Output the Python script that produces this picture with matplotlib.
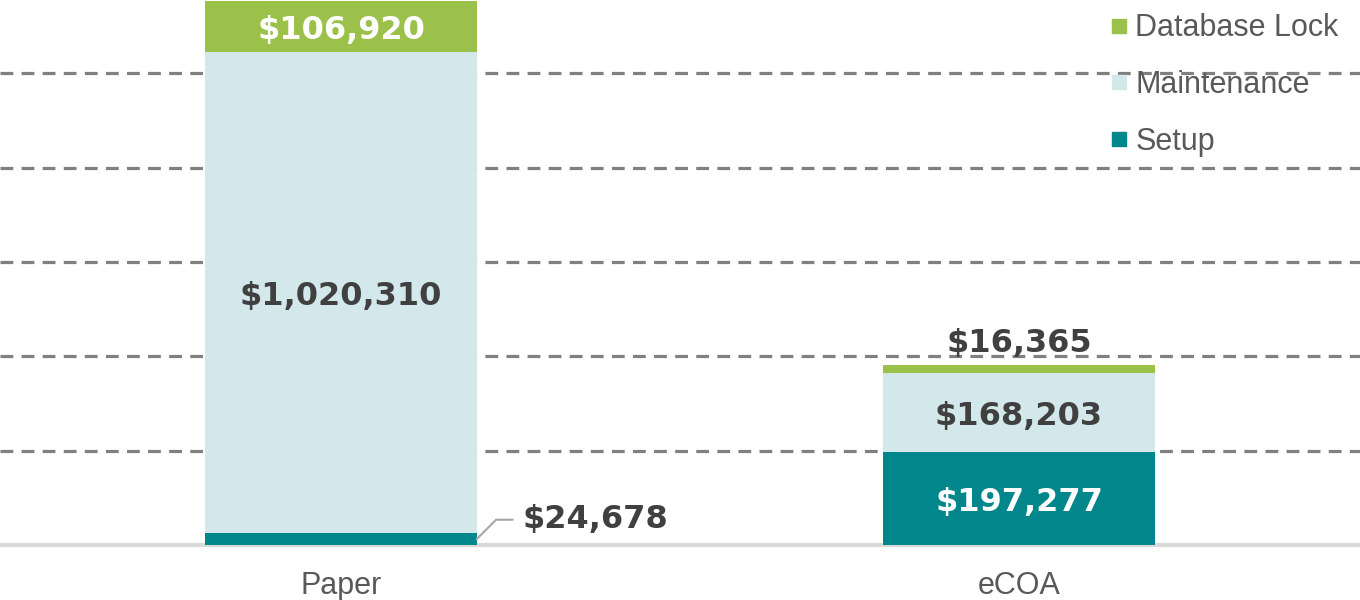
import matplotlib.pyplot as plt
import matplotlib.transforms as mtransforms
from matplotlib.lines import Line2D

# data
categories = ['Paper', 'eCOA']
setup = [24678, 197277]
maintenance = [1020310, 168203]
db_lock = [106920, 16365]
series_names = ['Setup', 'Maintenance', 'Database Lock']

c_setup = '#00868b'
c_maint = '#d3e8ea'
c_lock = '#9bc14b'
dark = '#404040'

fig = plt.figure(figsize=(13.6, 6), dpi=100)
ax = fig.add_axes([0, 55 / 600, 1, 545 / 600])

x = list(range(len(categories)))
w = 0.4
bottom2 = [s + m for s, m in zip(setup, maintenance)]

ax.bar(x, setup, w, color=c_setup, zorder=3)
ax.bar(x, maintenance, w, bottom=setup, color=c_maint, zorder=3)
ax.bar(x, db_lock, w, bottom=bottom2, color=c_lock, zorder=3)

ax.set_xlim(-0.503, 1.503)
ax.set_ylim(0, 1155000)

# dashed grid
for g in [200000, 400000, 600000, 800000, 1000000]:
    ax.axhline(g, color='#808080', lw=2.3, dashes=(4, 2.6), zorder=1)
ax.axhline(0, color='#d9d9d9', lw=3, zorder=2, clip_on=False)

# labels nudged a bit down like the original
tr = mtransforms.offset_copy(ax.transData, fig, y=-3, units='points')
lab = dict(fontsize=23, fontweight='bold', family='DejaVu Sans', ha='center', va='center',
           zorder=5, transform=tr)

# Paper labels
ax.text(0, bottom2[0] + db_lock[0] / 2, f'${db_lock[0]:,}', color='white', **lab)
ax.text(0, setup[0] + maintenance[0] / 2, f'${maintenance[0]:,}', color=dark, **lab)
ax.annotate(f'${setup[0]:,}', xy=(w / 2, setup[0] / 2), xytext=(33, 14), textcoords='offset points',
            ha='left', va='center', fontsize=23, fontweight='bold', family='DejaVu Sans', color=dark,
            arrowprops=dict(arrowstyle='-', color='#a6a6a6', lw=1.5, shrinkA=5, shrinkB=0,
                            connectionstyle='angle,angleA=0,angleB=45,rad=0'))

# eCOA labels
ax.text(1, setup[1] / 2, f'${setup[1]:,}', color='white', **lab)
ax.text(1, setup[1] + maintenance[1] / 2, f'${maintenance[1]:,}', color=dark, **lab)
ax.text(1, bottom2[1] + db_lock[1] + 53000, f'${db_lock[1]:,}', color=dark, **lab)

for s in ax.spines.values():
    s.set_visible(False)
ax.set_yticks([])
ax.set_xticks(x)
ax.set_xticklabels(categories, fontsize=22, color='#595959', family='Liberation Sans')
ax.tick_params(axis='x', length=0, pad=18.5)

handles = [Line2D([], [], marker='s', ls='', markersize=9.5, color=c)
           for c in [c_lock, c_maint, c_setup]]
ax.legend(handles, series_names[::-1], loc='upper right', bbox_to_anchor=(1.0, 1.015),
          frameon=False, handlelength=0.45, handletextpad=0.3, labelspacing=0.88,
          prop={'family': 'Liberation Sans', 'size': 22}, labelcolor='#595959', borderaxespad=0.3)

fig.savefig('out.png', dpi=100)
